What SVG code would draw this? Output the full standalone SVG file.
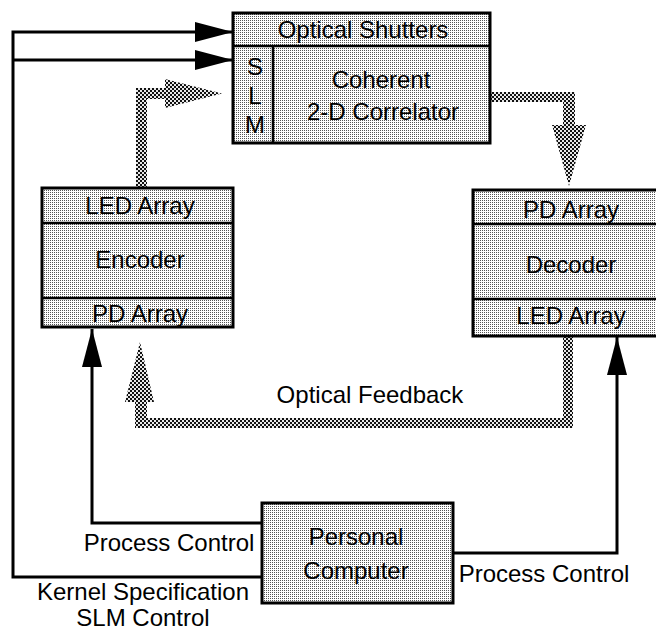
<svg xmlns="http://www.w3.org/2000/svg" width="656" height="634" viewBox="0 0 656 634">
  <style>
    .box { fill: url(#stipple); stroke: #000; stroke-width: 3; }
    .div { stroke: #000; stroke-width: 2.5; fill: none; }
    .lbl { font-family: "Liberation Sans", Arial, Helvetica, sans-serif; font-size: 24px; fill: #000; text-anchor: middle; }
    .wire { fill: none; stroke: #000; stroke-width: 3; }
    .beam { fill: url(#dense); stroke: none; }
  </style>
  <defs>
    <!-- light halftone used for the block fills -->
    <pattern id="stipple" width="2" height="2" patternUnits="userSpaceOnUse">
      <rect width="2" height="2" fill="#fff"/>
      <rect x="0" y="0" width="1" height="1" fill="#555"/>
    </pattern>
    <!-- dark checker used for the optical beam arrows -->
    <pattern id="dense" width="4" height="4" patternUnits="userSpaceOnUse">
      <rect width="4" height="4" fill="#e8e8e8"/>
      <rect x="0" y="0" width="2" height="2" fill="#111"/>
      <rect x="2" y="2" width="2" height="2" fill="#111"/>
    </pattern>
    <marker id="head" markerUnits="userSpaceOnUse" markerWidth="40" markerHeight="22" refX="38" refY="10" orient="auto" overflow="visible">
      <path d="M0,0 L38,10 L0,20 Z" fill="#000"/>
    </marker>
  </defs>

  <!-- optical beam paths -->
  <g id="connectors">
    <polygon class="beam" points="136,188 136,88 165,88 165,79 222,93.5 165,108 165,99 147,99 147,188"/>
    <polygon class="beam" points="490,92 575,92 575,125 586,125 569,186 552,125 563,125 563,102 490,102"/>
    <polygon class="beam" points="573,337 573,428 135,428 135,402 125,402 140,342 154,402 147,402 147,418 563,418 563,337"/>

    <!-- electrical control lines from the computer -->
    <path class="wire" d="M262,577 H13 V32 H233" marker-end="url(#head)"/>
    <path class="wire" d="M13,60 H233" marker-end="url(#head)"/>
    <path class="wire" d="M262,523 H92 V329" marker-end="url(#head)"/>
    <path class="wire" d="M453,553 H617 V337" marker-end="url(#head)"/>
  </g>

  <g id="correlator">
    <rect class="box" x="233" y="13" width="257" height="130"/>
    <line class="div" x1="233" y1="46" x2="490" y2="46"/>
    <line class="div" x1="273" y1="46" x2="273" y2="143"/>
    <text class="lbl" x="363" y="38">Optical Shutters</text>
    <text class="lbl" x="255" y="75">S</text>
    <text class="lbl" x="255" y="104">L</text>
    <text class="lbl" x="255" y="133">M</text>
    <text class="lbl" x="381" y="88">Coherent</text>
    <text class="lbl" x="383" y="120">2-D Correlator</text>
  </g>

  <g id="encoder">
    <rect class="box" x="42" y="188" width="191" height="139"/>
    <line class="div" x1="42" y1="223" x2="233" y2="223"/>
    <line class="div" x1="42" y1="298" x2="233" y2="298"/>
    <text class="lbl" x="140" y="214">LED Array</text>
    <text class="lbl" x="140" y="268">Encoder</text>
    <text class="lbl" x="140" y="322">PD Array</text>
  </g>

  <g id="decoder">
    <rect class="box" x="473" y="190" width="200" height="146"/>
    <line class="div" x1="473" y1="224" x2="673" y2="224"/>
    <line class="div" x1="473" y1="299" x2="673" y2="299"/>
    <text class="lbl" x="571" y="218">PD Array</text>
    <text class="lbl" x="571" y="273">Decoder</text>
    <text class="lbl" x="571" y="324">LED Array</text>
  </g>

  <g id="computer">
    <rect class="box" x="262" y="503" width="191" height="100"/>
    <text class="lbl" x="356" y="545">Personal</text>
    <text class="lbl" x="356" y="579">Computer</text>
  </g>

  <g id="labels">
    <text class="lbl" x="370" y="403">Optical Feedback</text>
    <text class="lbl" x="169" y="551">Process Control</text>
    <text class="lbl" x="544" y="582">Process Control</text>
    <text class="lbl" x="143" y="600">Kernel Specification</text>
    <text class="lbl" x="143" y="626">SLM Control</text>
  </g>
</svg>
